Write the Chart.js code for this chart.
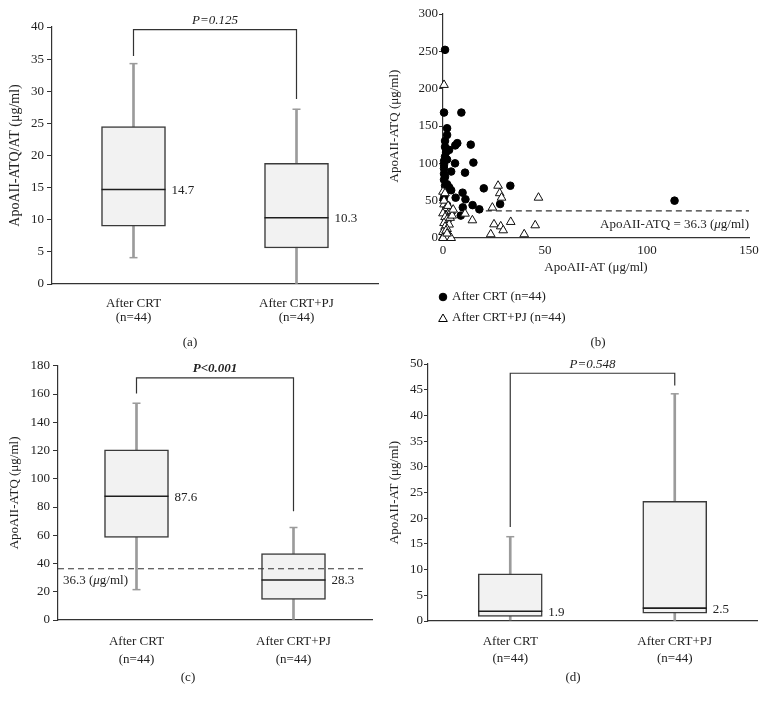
<!DOCTYPE html>
<html>
<head>
<meta charset="utf-8">
<script src="https://cdn.jsdelivr.net/npm/chart.js@4.4.0/dist/chart.umd.min.js"></script>
<style>
  body { margin: 0; background: #fff; width: 766px; height: 705px; position: relative; overflow: hidden; }
  canvas { position: absolute; }
</style>
</head>
<body>
<canvas id="pa" width="383" height="355" style="left:0;top:0"></canvas>
<canvas id="pb" width="383" height="355" style="left:383px;top:0"></canvas>
<canvas id="pc" width="383" height="350" style="left:0;top:355px"></canvas>
<canvas id="pd" width="383" height="350" style="left:383px;top:355px"></canvas>
<script>
const groups = [['After CRT', '(n=44)'], ['After CRT+PJ', '(n=44)']];

// (a) ApoAII-ATQ/AT
const ratioMin = [4.1, 0];
const ratioQ1 = [9.0, 5.6];
const ratioMedian = [14.7, 10.3];
const ratioQ3 = [24.5, 18.8];
const ratioMax = [34.3, 27.2];

// (c) ApoAII-ATQ
const atqMin = [21.5, 0];
const atqQ1 = [58.5, 14.5];
const atqMedian = [87.6, 28.3];
const atqQ3 = [120.5, 47.0];
const atqMax = [153.5, 65.5];

// (d) ApoAII-AT
const atMin = [0.2, 0];
const atQ1 = [0.9, 1.5];
const atMedian = [1.9, 2.5];
const atQ3 = [9.2, 23.3];
const atMax = [16.4, 44.2];

// cut-off
const cutoff = 36.3;

// p-value brackets: [top, left leg end, right leg end]
const pTexts = ['P=0.125', 'P<0.001', 'P=0.548'];
const bracketA = [39.6, 35.5, 28.8];
const bracketC = [171.5, 160.3, 77];
const bracketD = [48.2, 18.3, 45.8];

// (b) scatter, ApoAII-AT vs ApoAII-ATQ
const crtAT = [1, 0.5, 9, 2, 2, 1, 1, 6, 7, 13.6, 1, 0.5, 5.9, 14.9, 4, 10.8, 0.5, 0.5, 0.5, 1, 3, 2,
  0.8, 0.3, 2, 6.2, 9.6, 11, 9.7, 8.7, 14.5, 17.8, 20, 28, 33, 113.5, 1.5, 0.5, 3, 1, 2.5, 1, 4, 2];
const crtATQ = [252, 168, 168, 147, 138, 130, 122, 124, 127, 125, 109, 103, 100, 101, 89, 87.5, 93, 86, 78, 70, 68, 72,
  57, 52, 44, 54, 60.7, 51.8, 41, 30, 44, 38.4, 66.5, 45.5, 70, 50, 115, 98, 118, 62, 35, 82, 64, 105];
const pjAT = [0.5, 27, 27.8, 28.7, 46.8, 24.2, 14.4, 25, 28.3, 29.5, 33.2, 45.2, 23.4, 39.8, 10.8,
  0, 1, 0.5, 1.5, 0, 2, 3, 4, 1, 2, 0.5, 3, 1, 2, 0, 1, 3, 0, 1, 2, 4, 0.5, 2.5, 3.5, 1.5, 0, 2, 4.5, 5];
const pjATQ = [205, 70, 60, 54, 54, 40.7, 23.7, 18.3, 15.6, 10.3, 21.5, 17, 5, 5, 32.6,
  62, 60, 45, 40, 33, 30, 35, 36, 28, 25, 20, 18, 15, 12, 8, 5, 3, 1, 0, 1, 0, 50, 43, 27, 10, 0, 6, 30, 38];

const SERIF = "'Liberation Serif', 'DejaVu Serif', serif";
const ink = '#222';
function serif(size, lh) { return { family: SERIF, size: size, lineHeight: lh || 1.2 }; }

function line(ctx, x1, y1, x2, y2) {
  ctx.beginPath(); ctx.moveTo(x1, y1); ctx.lineTo(x2, y2); ctx.stroke();
}

// text with an italic mu
function richText(ctx, parts, x, y, align) {
  ctx.textBaseline = 'middle';
  ctx.textAlign = 'left';
  let w = 0;
  parts.forEach(p => { ctx.font = (p[1] ? 'italic ' : '') + '13px ' + SERIF; w += ctx.measureText(p[0]).width; });
  let cx = align === 'right' ? x - w : x;
  parts.forEach(p => {
    ctx.font = (p[1] ? 'italic ' : '') + '13px ' + SERIF;
    ctx.fillText(p[0], cx, y);
    cx += ctx.measureText(p[0]).width;
  });
}

function panelLabel(ctx, text, x, y) {
  ctx.font = '13px ' + SERIF;
  ctx.fillStyle = ink;
  ctx.textAlign = 'center';
  ctx.textBaseline = 'middle';
  ctx.fillText(text, x, y);
}

function boxExtras(s) {
  return {
    id: 'boxExtras',
    afterDatasetsDraw(chart) {
      const ctx = chart.ctx, xs = chart.scales.x, ys = chart.scales.y;
      ctx.save();
      s.median.forEach((m, i) => {
        const cx = xs.getPixelForValue(i);
        ctx.strokeStyle = '#9b9b9b';
        ctx.lineWidth = 1.5;
        [s.min[i], s.max[i]].forEach(v => {
          if (v > 0.5) line(ctx, cx - 4, ys.getPixelForValue(v), cx + 4, ys.getPixelForValue(v));
        });
        const ym = ys.getPixelForValue(m);
        ctx.strokeStyle = '#1e1e1e';
        ctx.lineWidth = 1.6;
        line(ctx, cx - 32, ym, cx + 32, ym);
        ctx.fillStyle = ink;
        ctx.font = '13px ' + SERIF;
        ctx.textAlign = 'left';
        ctx.textBaseline = 'middle';
        ctx.fillText(m.toFixed(1), cx + 38, ym + 1);
      });
      // bracket
      const b = s.bracket;
      const x0 = xs.getPixelForValue(0), x1 = xs.getPixelForValue(1);
      const yt = ys.getPixelForValue(b[0]);
      ctx.strokeStyle = '#333';
      ctx.lineWidth = 1.2;
      ctx.beginPath();
      ctx.moveTo(x0, ys.getPixelForValue(b[1]));
      ctx.lineTo(x0, yt);
      ctx.lineTo(x1, yt);
      ctx.lineTo(x1, ys.getPixelForValue(b[2]));
      ctx.stroke();
      ctx.font = (s.bold ? 'bold ' : '') + 'italic 13px ' + SERIF;
      ctx.fillStyle = ink;
      ctx.textAlign = 'center';
      ctx.textBaseline = 'middle';
      ctx.fillText(s.pText, (x0 + x1) / 2, yt - 9);
      // cut-off line
      if (s.cut) {
        const yc = ys.getPixelForValue(cutoff);
        ctx.setLineDash([6, 4]);
        ctx.strokeStyle = '#333';
        ctx.lineWidth = 1.2;
        line(ctx, chart.chartArea.left, yc, chart.chartArea.right - 9, yc);
        ctx.setLineDash([]);
        ctx.fillStyle = ink;
        richText(ctx, [[cutoff + ' (', false], ['\u03bc', true], ['g/ml)', false]], chart.chartArea.left + 5, yc + 12, 'left');
      }
      panelLabel(ctx, s.panel, s.panelX, s.panelY);
      ctx.restore();
    }
  };
}

function boxChart(id, s) {
  return new Chart(document.getElementById(id), {
    type: 'bar',
    data: {
      labels: groups,
      datasets: [
        { data: s.min.map((v, i) => [v, s.max[i]]), backgroundColor: '#9b9b9b', barThickness: 2, grouped: false, order: 2 },
        { data: s.q1.map((v, i) => [v, s.q3[i]]), backgroundColor: '#f2f2f2', borderColor: '#3a3a3a', borderWidth: 1.5,
          borderSkipped: false, barThickness: 64, grouped: false, order: 1 }
      ]
    },
    options: {
      responsive: false,
      animation: false,
      events: [],
      layout: { padding: { top: s.top, right: s.right, bottom: 0, left: 0 } },
      plugins: { legend: { display: false }, tooltip: { enabled: false } },
      scales: {
        x: {
          grid: { display: false },
          border: { color: '#333', width: 1.2 },
          ticks: { color: ink, font: serif(13, s.lh), padding: 4 },
          afterFit: sc => { sc.height = s.xh; }
        },
        y: {
          min: 0, max: s.ymax,
          ticks: { stepSize: s.step, color: ink, font: serif(13), padding: s.tpad },
          grid: { drawOnChartArea: false, tickLength: s.tl, color: '#333' },
          border: { color: '#333', width: 1.2 },
          title: { display: true, text: s.title, color: ink, font: serif(s.titleSize), padding: { top: s.titlePad, bottom: 0 } },
          afterFit: sc => { sc.width = s.yw; }
        }
      }
    },
    plugins: [boxExtras(s)]
  });
}

boxChart('pa', {
  min: ratioMin, q1: ratioQ1, median: ratioMedian, q3: ratioQ3, max: ratioMax,
  ymax: 40, step: 5, title: 'ApoAII-ATQ/AT (\u03bcg/ml)', titleSize: 14,
  top: 27, right: 5, xh: 71, yw: 52, tl: 5, tpad: 3, titlePad: 7, lh: 1.1,
  bracket: bracketA, pText: pTexts[0], bold: false,
  panel: '(a)', panelX: 190, panelY: 343
});

boxChart('pc', {
  min: atqMin, q1: atqQ1, median: atqMedian, q3: atqQ3, max: atqMax,
  ymax: 180, step: 20, title: 'ApoAII-ATQ (\u03bcg/ml)', titleSize: 13,
  top: 9, right: 11, xh: 85, yw: 58, tl: 5, tpad: 3, titlePad: 7, lh: 1.4,
  bracket: bracketC, pText: pTexts[1], bold: true, cut: true,
  panel: '(c)', panelX: 188, panelY: 323
});

boxChart('pd', {
  min: atMin, q1: atQ1, median: atMedian, q3: atQ3, max: atMax,
  ymax: 50, step: 5, title: 'ApoAII-AT (\u03bcg/ml)', titleSize: 13,
  top: 9, right: 9, xh: 84, yw: 45, tl: 4, tpad: 1, titlePad: 4, lh: 1.3,
  bracket: bracketD, pText: pTexts[2], bold: false,
  panel: '(d)', panelX: 190, panelY: 323
});

// scatter panel
const scatterExtras = {
  id: 'scatterExtras',
  beforeDatasetsDraw(chart) {
    const ctx = chart.ctx, xs = chart.scales.x, ys = chart.scales.y;
    const yc = ys.getPixelForValue(cutoff);
    ctx.save();
    ctx.setLineDash([6, 4]);
    ctx.strokeStyle = '#333';
    ctx.lineWidth = 1.2;
    line(ctx, xs.getPixelForValue(21), yc, xs.getPixelForValue(150), yc);
    ctx.setLineDash([]);
    ctx.fillStyle = ink;
    richText(ctx, [['ApoAII-ATQ = ' + cutoff + ' (', false], ['\u03bc', true], ['g/ml)', false]], xs.getPixelForValue(150), yc + 14, 'right');
    ctx.restore();
  },
  afterDraw(chart) {
    const ctx = chart.ctx;
    ctx.save();
    ctx.strokeStyle = '#000';
    ctx.lineWidth = 1;
    // legend rows
    ctx.fillStyle = '#000';
    ctx.beginPath(); ctx.arc(60, 297, 3.8, 0, Math.PI * 2); ctx.fill(); ctx.stroke();
    const r = 5;
    ctx.fillStyle = '#fff';
    ctx.beginPath();
    for (let k = 0; k < 3; k++) {
      const a = k * 2 * Math.PI / 3;
      const px = 60 + Math.sin(a) * r, py = 319 - Math.cos(a) * r;
      if (k === 0) ctx.moveTo(px, py); else ctx.lineTo(px, py);
    }
    ctx.closePath(); ctx.fill(); ctx.stroke();
    ctx.fillStyle = ink;
    ctx.font = '13px ' + SERIF;
    ctx.textAlign = 'left';
    ctx.textBaseline = 'middle';
    ctx.fillText(chart.data.datasets[0].label, 69, 297);
    ctx.fillText(chart.data.datasets[1].label, 69, 318);
    panelLabel(ctx, '(b)', 215, 343);
    ctx.restore();
  }
};

new Chart(document.getElementById('pb'), {
  type: 'scatter',
  data: {
    datasets: [
      { label: 'After CRT (n=44)', data: crtAT.map((v, i) => ({ x: v, y: crtATQ[i] })),
        pointStyle: 'circle', pointRadius: 3.8, backgroundColor: '#000', borderColor: '#000', borderWidth: 1, order: 2, clip: false },
      { label: 'After CRT+PJ (n=44)', data: pjAT.map((v, i) => ({ x: v, y: pjATQ[i] })),
        pointStyle: 'triangle', pointRadius: 5, backgroundColor: '#fff', borderColor: '#111', borderWidth: 1, order: 1, clip: false }
    ]
  },
  options: {
    responsive: false,
    animation: false,
    events: [],
    layout: { padding: { top: 14, right: 17, bottom: 77, left: 0 } },
    plugins: { legend: { display: false }, tooltip: { enabled: false } },
    scales: {
      x: {
        type: 'linear', min: 0, max: 150,
        ticks: { stepSize: 50, color: ink, font: serif(13), padding: 5 },
        grid: { display: false, drawTicks: false },
        border: { color: '#333', width: 1.2 },
        title: { display: true, text: 'ApoAII-AT (\u03bcg/ml)', color: ink, font: serif(13), padding: { top: 0, bottom: 3 } },
        afterFit: sc => { sc.height = 40; }
      },
      y: {
        min: 0, max: 300,
        ticks: { stepSize: 50, color: ink, font: serif(13), padding: 1 },
        grid: { drawOnChartArea: false, tickLength: 4, color: '#333' },
        border: { color: '#333', width: 1.2 },
        title: { display: true, text: 'ApoAII-ATQ (\u03bcg/ml)', color: ink, font: serif(13), padding: { top: 4, bottom: 0 } },
        afterFit: sc => { sc.width = 60; }
      }
    }
  },
  plugins: [scatterExtras]
});
</script>
</body>
</html>
